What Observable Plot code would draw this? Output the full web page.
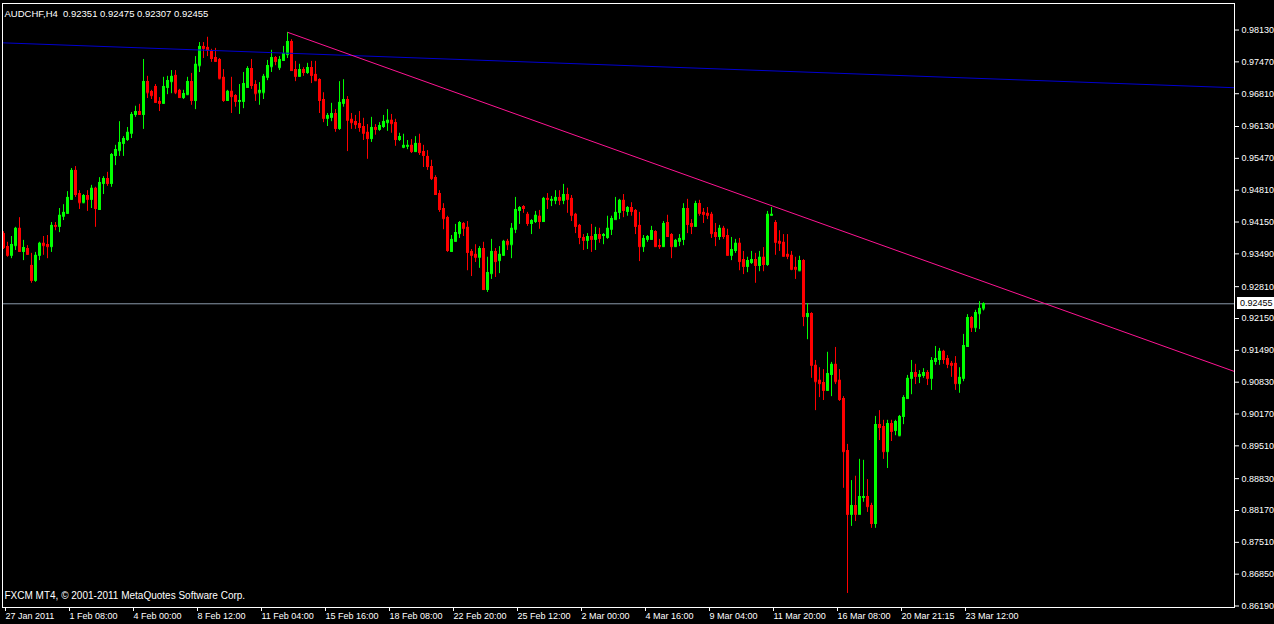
<!DOCTYPE html>
<html>
<head>
<meta charset="utf-8">
<script src="https://cdn.jsdelivr.net/npm/d3@7"></script>
<script src="https://cdn.jsdelivr.net/npm/@observablehq/plot@0.6"></script>
<style>
  html, body { margin: 0; padding: 0; background: #000; }
  #chart { width: 1274px; height: 624px; }
</style>
</head>
<body>
<div id="chart"></div>
<script>
// ---------- data (AUDCHF, H4) ----------
const symbolTitle = "AUDCHF,H4  0.92351 0.92475 0.92307 0.92455";
const caption = "FXCM MT4, © 2001-2011 MetaQuotes Software Corp.";

const open = [
.9391,.9364,.9346,.9366,.9402,.9354,.9360,.9325,.9294,.9346,.9371,.9368,.9364,.9408,.9406,.9427,.9433,.9462,.9522,.9474,
.9455,.9470,.9462,.9485,.9441,.9495,.9505,.9495,.9553,.9563,.9578,.9586,.9599,.9638,.9644,.9638,.9706,.9685,.9696,.9665,
.9661,.9694,.9706,.9719,.9688,.9673,.9679,.9706,.9667,.9739,.9779,.9777,.9769,.9756,.9752,.9715,.9667,.9686,.9677,.9665,
.9665,.9694,.9733,.9700,.9683,.9683,.9715,.9737,.9756,.9735,.9750,.9762,.9789,.9731,.9717,.9731,.9725,.9735,.9721,.9710,
.9669,.9630,.9632,.9640,.9609,.9661,.9669,.9628,.9623,.9619,.9613,.9601,.9588,.9611,.9607,.9613,.9621,.9626,.9621,.9586,
.9570,.9572,.9574,.9561,.9578,.9561,.9551,.9530,.9507,.9474,.9443,.9424,.9354,.9375,.9391,.9412,.9404,.9354,.9348,.9342,
.9360,.9275,.9308,.9354,.9335,.9346,.9375,.9368,.9400,.9439,.9447,.9431,.9412,.9416,.9427,.9416,.9464,.9460,.9460,.9466,
.9460,.9472,.9464,.9431,.9408,.9383,.9377,.9385,.9379,.9389,.9387,.9383,.9400,.9420,.9435,.9460,.9437,.9445,.9439,.9408,
.9364,.9379,.9379,.9395,.9366,.9364,.9414,.9389,.9364,.9375,.9379,.9443,.9412,.9406,.9453,.9435,.9433,.9431,.9393,.9385,
.9402,.9387,.9346,.9356,.9371,.9337,.9323,.9331,.9337,.9325,.9342,.9327,.9429,.9414,.9375,.9373,.9348,.9346,.9321,.9314,
.9335,.9219,.9225,.9118,.9087,.9082,.9066,.9099,.9120,.9087,.9049,.8941,.8809,.8827,.8809,.8844,.8846,.8827,.8790,.8995,
.8991,.8939,.8997,.8983,.8972,.9012,.9049,.9091,.9103,.9095,.9097,.9103,.9091,.9126,.9130,.9147,.9132,.9122,.9122,.9080,
.9091,.9157,.9217,.9196,.9225,.92351];

const high = [
.9395,.9373,.9385,.9404,.9424,.9377,.9366,.9350,.9352,.9373,.9385,.9387,.9414,.9414,.9443,.9451,.9478,.9526,.9530,.9480,
.9472,.9480,.9491,.9487,.9507,.9509,.9518,.9557,.9574,.9623,.9592,.9611,.9642,.9655,.9659,.9752,.9717,.9688,.9700,.9673,
.9715,.9717,.9729,.9729,.9690,.9688,.9715,.9723,.9758,.9787,.9787,.9798,.9773,.9775,.9754,.9731,.9688,.9715,.9679,.9700,
.9725,.9737,.9752,.9708,.9704,.9721,.9750,.9771,.9758,.9758,.9779,.9808,.9793,.9748,.9742,.9735,.9744,.9748,.9748,.9712,
.9683,.9640,.9661,.9648,.9706,.9710,.9675,.9640,.9636,.9644,.9630,.9617,.9632,.9617,.9621,.9636,.9648,.9638,.9628,.9599,
.9597,.9584,.9586,.9592,.9597,.9574,.9563,.9543,.9511,.9480,.9453,.9427,.9387,.9410,.9416,.9414,.9416,.9358,.9368,.9364,
.9373,.9342,.9379,.9360,.9364,.9377,.9379,.9412,.9466,.9447,.9449,.9435,.9420,.9437,.9439,.9466,.9474,.9468,.9480,.9480,
.9493,.9485,.9470,.9433,.9410,.9389,.9391,.9410,.9404,.9402,.9391,.9427,.9427,.9466,.9462,.9472,.9447,.9455,.9441,.9435,
.9387,.9387,.9406,.9397,.9379,.9416,.9429,.9391,.9379,.9389,.9453,.9462,.9420,.9458,.9460,.9443,.9445,.9435,.9412,.9408,
.9406,.9400,.9383,.9379,.9381,.9354,.9342,.9354,.9350,.9354,.9362,.9437,.9445,.9418,.9397,.9389,.9389,.9354,.9342,.9344,
.9337,.9246,.9227,.9128,.9113,.9109,.9145,.9124,.9155,.9109,.9053,.8954,.8879,.8888,.8923,.8921,.8881,.8832,.9012,.9024,
.9004,.9004,.9004,.9004,.9014,.9055,.9097,.9128,.9120,.9107,.9111,.9107,.9134,.9157,.9153,.9149,.9138,.9126,.9136,.9113,
.9182,.9223,.9219,.9232,.9250,.92475];

const low = [
.9358,.9342,.9339,.9356,.9352,.9335,.9346,.9288,.9290,.9335,.9346,.9339,.9352,.9397,.9393,.9418,.9431,.9460,.9466,.9441,
.9453,.9437,.9443,.9404,.9439,.9472,.9489,.9487,.9532,.9551,.9551,.9582,.9588,.9632,.9636,.9607,.9671,.9669,.9661,.9644,
.9659,.9679,.9681,.9679,.9671,.9669,.9677,.9657,.9648,.9725,.9754,.9758,.9746,.9746,.9710,.9663,.9665,.9640,.9653,.9638,
.9650,.9692,.9690,.9665,.9657,.9669,.9708,.9725,.9739,.9729,.9748,.9754,.9727,.9706,.9715,.9717,.9721,.9702,.9706,.9640,
.9621,.9613,.9623,.9601,.9605,.9653,.9561,.9607,.9607,.9601,.9584,.9545,.9580,.9595,.9603,.9609,.9603,.9599,.9572,.9582,
.9567,.9565,.9557,.9559,.9553,.9528,.9522,.9501,.9470,.9435,.9399,.9352,.9352,.9373,.9381,.9385,.9314,.9302,.9331,.9319,
.9273,.9269,.9296,.9300,.9308,.9344,.9356,.9339,.9391,.9410,.9433,.9406,.9389,.9412,.9400,.9414,.9441,.9447,.9451,.9449,
.9451,.9433,.9416,.9391,.9368,.9356,.9358,.9352,.9356,.9371,.9368,.9379,.9387,.9420,.9420,.9424,.9427,.9427,.9389,.9333,
.9352,.9373,.9377,.9362,.9358,.9362,.9383,.9339,.9362,.9364,.9366,.9391,.9389,.9404,.9427,.9412,.9420,.9381,.9364,.9377,
.9379,.9344,.9335,.9350,.9314,.9306,.9310,.9327,.9288,.9312,.9312,.9323,.9427,.9346,.9354,.9342,.9337,.9314,.9296,.9312,
.9198,.9171,.9091,.9024,.9051,.9045,.9064,.9053,.9078,.9043,.8863,.8645,.8784,.8794,.8809,.8834,.8813,.8780,.8780,.8962,
.8923,.8904,.8960,.8972,.8970,.8995,.9049,.9057,.9078,.9080,.9091,.9076,.9066,.9118,.9118,.9120,.9111,.9093,.9066,.9060,
.9084,.9155,.9186,.9186,.9192,.92307];

const close = [
.9362,.9346,.9368,.9402,.9354,.9362,.9348,.9294,.9346,.9371,.9366,.9364,.9408,.9406,.9429,.9435,.9466,.9522,.9472,.9455,
.9470,.9462,.9485,.9443,.9497,.9505,.9495,.9555,.9565,.9580,.9588,.9601,.9638,.9644,.9638,.9706,.9683,.9677,.9663,.9661,
.9696,.9708,.9717,.9683,.9673,.9681,.9706,.9667,.9742,.9779,.9775,.9771,.9754,.9748,.9712,.9667,.9686,.9675,.9665,.9667,
.9702,.9733,.9698,.9681,.9688,.9717,.9739,.9756,.9748,.9752,.9764,.9789,.9729,.9717,.9731,.9725,.9735,.9719,.9708,.9667,
.9630,.9636,.9640,.9609,.9663,.9669,.9626,.9621,.9617,.9611,.9599,.9588,.9611,.9607,.9615,.9623,.9626,.9619,.9586,.9592,
.9574,.9574,.9561,.9578,.9559,.9553,.9530,.9505,.9472,.9441,.9422,.9356,.9379,.9393,.9414,.9402,.9352,.9346,.9342,.9360,
.9275,.9310,.9354,.9333,.9348,.9375,.9368,.9402,.9441,.9445,.9443,.9412,.9418,.9429,.9416,.9464,.9462,.9462,.9466,.9460,
.9472,.9462,.9429,.9406,.9383,.9377,.9385,.9379,.9389,.9381,.9389,.9402,.9422,.9435,.9460,.9439,.9445,.9437,.9406,.9364,
.9381,.9385,.9397,.9364,.9364,.9412,.9385,.9364,.9377,.9381,.9443,.9410,.9406,.9453,.9433,.9431,.9429,.9391,.9385,.9402,
.9385,.9346,.9358,.9371,.9333,.9323,.9335,.9337,.9325,.9342,.9327,.9431,.9431,.9373,.9371,.9344,.9344,.9317,.9317,.9335,
.9219,.9225,.9118,.9084,.9080,.9066,.9101,.9120,.9084,.9047,.8939,.8809,.8827,.8809,.8846,.8846,.8825,.8790,.8995,.8989,
.8939,.8997,.8981,.9001,.9012,.9051,.9091,.9103,.9095,.9099,.9103,.9091,.9128,.9132,.9147,.9130,.9120,.9118,.9080,.9093,
.9159,.9217,.9196,.9227,.9236,.92455];

const bidPrice = 0.92455;

// price-axis labels
const priceTicks = [0.98130,0.97470,0.96810,0.96130,0.95470,0.94810,0.94150,0.93490,0.92810,0.92150,
                    0.91490,0.90830,0.90170,0.89510,0.88830,0.88170,0.87510,0.86850,0.86190];

// time-axis labels (bar index → label)
const timeTickBars = [0,16,32,48,64,80,96,112,128,144,160,176,192,208,224,240];
const timeTickLabels = ["27 Jan 2011","1 Feb 08:00","4 Feb 00:00","8 Feb 12:00","11 Feb 04:00","15 Feb 16:00",
  "18 Feb 08:00","22 Feb 20:00","25 Feb 12:00","2 Mar 00:00","4 Mar 16:00","9 Mar 04:00","11 Mar 20:00",
  "16 Mar 08:00","20 Mar 21:15","23 Mar 12:00"];

// trend lines (bar index, price)
const blueTrendBars = [-0.375, 307.625];
const blueTrendPrices = [0.97865, 0.96934];
const pinkTrendBars = [71, 307.625];
const pinkTrendPrices = [0.98080, 0.91051];

// ---------- build ----------
const UP = "#00ff00", DOWN = "#ff0000";
const candles = open.map((o, i) => ({i, o, h: high[i], l: low[i], c: close[i], col: close[i] >= o ? UP : DOWN}));
const blueTrend = blueTrendBars.map((b, k) => ({b, p: blueTrendPrices[k]}));
const pinkTrend = pinkTrendBars.map((b, k) => ({b, p: pinkTrendPrices[k]}));

function bidBox(index, scales, values, dimensions) {
  const y = Math.round(scales.y(bidPrice));
  const x0 = dimensions.width - dimensions.marginRight + 3;
  const g = d3.create("svg:g");
  g.append("rect").attr("x", x0).attr("y", y - 6).attr("width", dimensions.width - x0).attr("height", 12).attr("fill", "#fff");
  g.append("text").attr("x", x0 + 3).attr("y", y).attr("dy", "0.32em")
    .attr("text-anchor", "start").attr("fill", "#000").text(bidPrice.toFixed(5));
  return g.node();
}

const chart = Plot.plot({
  width: 1274,
  height: 624,
  marginLeft: 2,
  marginRight: 40,
  marginTop: 3,
  marginBottom: 17,
  style: {background: "#000", color: "#fff", fontFamily: "'Liberation Sans', Arial, sans-serif", fontSize: "9px"},
  x: {domain: [-0.375, 307.625]},
  y: {domain: [0.86159, 0.98680]},
  color: {type: "identity"},
  marks: [
    Plot.ruleY([bidPrice], {stroke: "#8a9aab"}),
    Plot.ruleX(candles, {x: "i", y1: "l", y2: "h", stroke: "col", dx: -0.5}),
    Plot.rect(candles, {x1: d => d.i - 0.375, x2: d => d.i + 0.375, y1: "o", y2: "c", fill: "col", shapeRendering: "crispEdges"}),
    Plot.ruleY(candles, {x1: d => d.i - 0.375, x2: d => d.i + 0.375, y: "o", stroke: "col"}),
    Plot.ruleY(candles, {x1: d => d.i - 0.375, x2: d => d.i + 0.375, y: "c", stroke: "col"}),
    Plot.line(blueTrend, {x: "b", y: "p", stroke: "#0000d0", strokeWidth: 1}),
    Plot.line(pinkTrend, {x: "b", y: "p", stroke: "#ff1493", strokeWidth: 1}),
    Plot.frame({stroke: "#fff"}),
    Plot.axisY(priceTicks, {anchor: "right", tickSize: 4, tickPadding: 3, tickFormat: d => d.toFixed(5), label: null, stroke: "#fff", fill: "#fff"}),
    Plot.axisX(timeTickBars, {anchor: "bottom", tickSize: 4, tickPadding: 1, tickFormat: d => timeTickLabels[timeTickBars.indexOf(d)], label: null, textAnchor: "start", dx: 1.5, stroke: "#fff", fill: "#fff"}),
    bidBox,
    Plot.text([symbolTitle], {frameAnchor: "top-left", dx: 2, dy: 7, text: d => d, fill: "#fff", textAnchor: "start", fontSize: 9.5}),
    Plot.text([caption], {frameAnchor: "bottom-left", dx: 2, dy: -9, text: d => d, fill: "#fff", textAnchor: "start", fontSize: 10})
  ]
});
document.getElementById("chart").appendChild(chart);
</script>
</body>
</html>
